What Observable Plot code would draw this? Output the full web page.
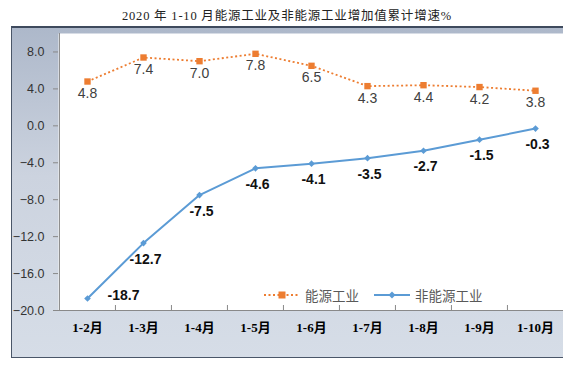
<!DOCTYPE html>
<html>
<head>
<meta charset="utf-8">
<script src="https://cdn.jsdelivr.net/npm/d3@7"></script>
<script src="https://cdn.jsdelivr.net/npm/@observablehq/plot@0.6"></script>
<style>
  html, body { margin: 0; padding: 0; background: #fff; }
  #wrap { position: relative; width: 576px; height: 366px; overflow: hidden; }
  #panel { position: absolute; left: 11px; top: 26px; width: 551px; height: 329px;
    background: linear-gradient(to bottom, #adb8ca 0%, #ccd3df 45%, #d6dde7 100%);
    border-top: 2px solid #3e4a5d; border-left: 1px solid #4a5668; border-bottom: 1px solid #4a5668; }
  #title { position: absolute; left: 11px; top: 5px; width: 552px; text-align: center;
    font-family: "Liberation Serif", "Noto Sans CJK SC", serif; font-size: 12.5px; color: #222; letter-spacing: 0.8px; }
  #chart { position: absolute; left: 0; top: 0; }
  #legend { position: absolute; top: 285px; left: 263px; display: flex; align-items: center;
    font-family: "Noto Sans CJK SC", sans-serif; font-size: 13.5px; color: #595959; }
  #legend .item { display: flex; align-items: center; margin-right: 14px; }
  #legend svg { margin-right: 4px; }
</style>
</head>
<body>
<div id="wrap">
  <div id="panel"></div>
  <div id="title">2020 年 1-10 月能源工业及非能源工业增加值累计增速%</div>
  <div id="chart"></div>
  <div id="legend"></div>
</div>
<script>
const months = ["1-2月", "1-3月", "1-4月", "1-5月", "1-6月", "1-7月", "1-8月", "1-9月", "1-10月"];
const energy = [4.8, 7.4, 7.0, 7.8, 6.5, 4.3, 4.4, 4.2, 3.8];
const nonEnergy = [-18.7, -12.7, -7.5, -4.6, -4.1, -3.5, -2.7, -1.5, -0.3];
const yTicks = [-20, -16, -12, -8, -4, 0, 4, 8];
const seriesNames = ["能源工业", "非能源工业"];

const ORANGE = "#ed7d31", BLUE = "#5b9bd5", AXIS = "#898989";
const DASH = "2,2.5";
const W = 576, H = 366, ML = 58, MR = 13, MT = 33, MB = 56;
const half = (W - ML - MR) / months.length / 2;

const energyData = months.map((m, i) => ({month: m, value: energy[i]}));
const nonData = months.map((m, i) => ({month: m, value: nonEnergy[i]}));

const plot = Plot.plot({
  width: W, height: H,
  marginLeft: ML, marginRight: MR, marginTop: MT, marginBottom: MB,
  style: {background: "transparent", overflow: "visible"},
  x: {type: "band", domain: months, padding: 0, axis: null},
  y: {domain: [-20, 10], axis: null},
  marks: [
    Plot.frame({fill: "white", stroke: "none"}),
    Plot.axisY({ticks: yTicks, tickFormat: d3.format(".1f"), tickSize: 5, tickPadding: 9,
      stroke: AXIS, fill: "#333", fontSize: 12.5, fontFamily: "Liberation Sans, Arial, sans-serif", label: null}),
    Plot.axisX({tickSize: 0, tickPadding: 12, fill: "#000", fontSize: 13, fontWeight: "bold",
      fontFamily: "Liberation Serif, Noto Sans CJK SC, serif", label: null}),
    Plot.ruleY([-20], {stroke: AXIS}),
    Plot.ruleX([months[0]], {dx: -half, stroke: AXIS}),
    Plot.ruleX(months.slice(1), {dx: -half, y1: -20, y2: -20, insetTop: -5, stroke: AXIS}),
    Plot.line(energyData, {x: "month", y: "value", stroke: ORANGE, strokeWidth: 1.8, strokeDasharray: DASH, strokeLinecap: "butt"}),
    Plot.dot(energyData, {x: "month", y: "value", symbol: "square", r: 3.6, fill: ORANGE, stroke: "none"}),
    Plot.line(nonData, {x: "month", y: "value", stroke: BLUE, strokeWidth: 2}),
    Plot.dot(nonData, {x: "month", y: "value", symbol: "diamond2", r: 3, fill: BLUE, stroke: "none"}),
    Plot.text(energyData, {x: "month", y: "value", text: d => d.value.toFixed(1), dy: 12,
      fontSize: 14, fill: "#404040", fontFamily: "Liberation Sans, Arial, sans-serif"}),
    Plot.text(nonData.slice(1), {x: "month", y: "value", text: d => d.value.toFixed(1), dy: 16, dx: 2,
      fontSize: 14, fontWeight: "bold", fill: "#111", fontFamily: "Liberation Sans, Arial, sans-serif"}),
    Plot.text(nonData.slice(0, 1), {x: "month", y: "value", text: d => d.value.toFixed(1), dy: -3, dx: 36,
      fontSize: 14, fontWeight: "bold", fill: "#111", fontFamily: "Liberation Sans, Arial, sans-serif"})
  ]
});
document.getElementById("chart").appendChild(plot);

const legend = document.getElementById("legend");
legend.innerHTML =
  `<div class="item"><svg width="38" height="10"><line x1="1" x2="37" y1="5" y2="5" stroke="${ORANGE}" stroke-width="1.8" stroke-dasharray="${DASH}"/><rect x="15.5" y="1.5" width="7" height="7" fill="${ORANGE}"/></svg>${seriesNames[0]}</div>` +
  `<div class="item"><svg width="38" height="10"><line x1="1" x2="37" y1="5" y2="5" stroke="${BLUE}" stroke-width="2"/><path d="M19,1.5 L22.5,5 L19,8.5 L15.5,5 Z" fill="${BLUE}"/></svg>${seriesNames[1]}</div>`;
</script>
</body>
</html>
